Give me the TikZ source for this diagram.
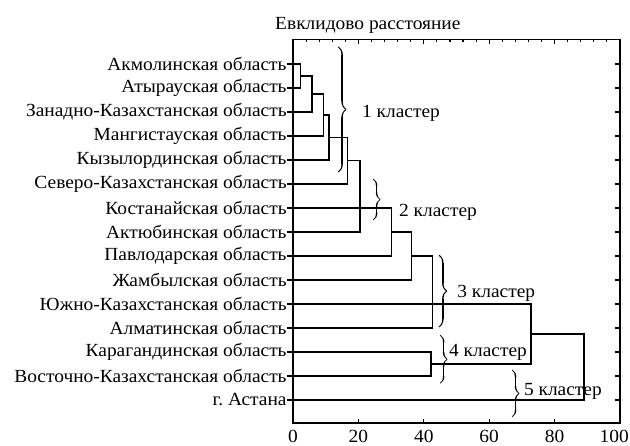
\documentclass[tikz,border=0pt]{standalone}
\usepackage{fontspec}
\setmainfont{Liberation Serif}[FakeStretch=1.05]
\frenchspacing
\usetikzlibrary{decorations.pathreplacing,calligraphy}
\tikzset{
  leaf/.style={anchor=east,inner sep=0pt},
  clabel/.style={anchor=west,inner sep=0pt},
  cbrace/.style={decorate,decoration={calligraphic brace,amplitude=#1},line width=1.5pt},
  tree/.style={line width=1.1pt},
  axis/.style={line width=1.5pt}
}
\begin{document}
\begin{tikzpicture}[x=3.27pt,y=-24pt,font=\fontsize{18.5}{22}\selectfont]
\useasboundingbox (-89.6,-2.667) rectangle (103.06,15.875);
\node (title) at (22.9,-1.625) {Евклидово расстояние};
\draw[axis] (0,-1.03) rectangle (100,14.96);
\foreach \v in {0,4,...,100} \draw[tree] (\v,-1.03) -- (\v,-0.9);
\foreach \v in {0,20,...,100} {
  \draw[tree] (\v,-1.03) -- (\v,-0.82);
  \draw[tree] (\v,14.96) -- (\v,14.79);
}
\foreach \v in {0,20,...,80} \node (n\v) at (\v,15.5) {\v};
\node[anchor=east,inner sep=1pt] (n100) at (103.06,15.5) {100};
\foreach \name [count=\i from 0] in {Акмолинская область,Атырауская область,Занадно-Казахстанская область,Мангистауская область,Кызылординская область,Северо-Казахстанская область,Костанайская область,Актюбинская область,Павлодарская область,Жамбылская область,Южно-Казахстанская область,Алматинская область,Карагандинская область,Восточно-Казахстанская область,г. Астана} {
  \node[leaf] (r\i) at (-1.9,\i) {\name};
  \draw[tree] (0,\i) -- (-1.8,\i) (100,\i) -- (98.5,\i);
}
\draw[tree] (0,0) -| (2.4,1) -- (0,1);
\draw[tree] (2.4,0.5) -| (5.8,2) -- (0,2);
\draw[tree] (5.8,1.25) -| (9.2,3) -- (0,3);
\draw[tree] (9.2,2.125) -| (11,4) -- (0,4);
\draw[tree] (11,3.06) -| (16.8,5) -- (0,5);
\draw[tree] (16.8,4.03) -| (20.5,7) -- (0,7);
\draw[tree] (0,6) -| (30,8) -- (0,8);
\draw[tree] (30,7) -| (36.3,9) -- (0,9);
\draw[tree] (36.3,8) -| (42.7,11) -- (0,11);
\draw[tree] (0,12) -| (42.2,13) -- (0,13);
\draw[tree] (0,10) -| (72.8,12.5) -- (42.2,12.5);
\draw[tree] (72.8,11.25) -| (89,14) -- (0,14);
\draw[cbrace=8pt] (13.8,-0.71) -- (13.8,4.5);
\draw[cbrace=7pt] (24.5,4.79) -- (24.5,6.5);
\draw[cbrace=8pt] (44.6,7.96) -- (44.6,10.96);
\draw[cbrace=7pt] (45,11.3) -- (45,13.3);
\draw[cbrace=7pt] (67,12.75) -- (67,14.7);
\node[clabel] (k1) at (21.1,2.04) {1 кластер};
\node[clabel] (k2) at (32.4,6.2) {2 кластер};
\node[clabel] (k3) at (50.2,9.54) {3 кластер};
\node[clabel] (k4) at (47.7,12.0) {4 кластер};
\node[clabel] (k5) at (70.6,13.63) {5 кластер};
\end{tikzpicture}
\end{document}
